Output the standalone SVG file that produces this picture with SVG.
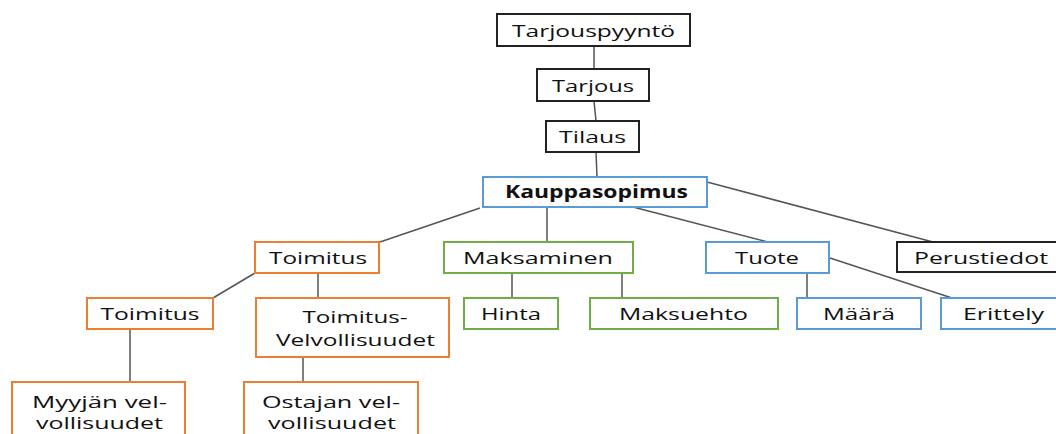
<svg xmlns="http://www.w3.org/2000/svg" width="1056" height="434" viewBox="0 0 1056 434">
<style>
rect{fill:#fff;stroke-width:2}
.k{stroke:#222}
.b{stroke:#5B9BD5}
.o{stroke:#ED7D31}
.g{stroke:#70AD47}
text{font-family:"Open Sans","Liberation Sans",sans-serif;font-size:17px;fill:#111;text-anchor:middle}
.bold{font-weight:bold}
#connectors line{stroke:#555;stroke-width:1.5}
</style>
<rect width="1056" height="434" fill="#fff" style="stroke:none"/>
<g id="connectors">
<line x1="594" y1="46" x2="594" y2="69"/>
<line x1="594" y1="101" x2="596" y2="121"/>
<line x1="596" y1="152" x2="597" y2="177"/>
<line x1="480" y1="208" x2="380" y2="242"/>
<line x1="547" y1="207" x2="547" y2="242"/>
<line x1="633" y1="207" x2="768" y2="242"/>
<line x1="707" y1="182" x2="933" y2="242"/>
<line x1="255" y1="273" x2="213" y2="298"/>
<line x1="318" y1="273" x2="318" y2="298"/>
<line x1="130" y1="329" x2="130" y2="382"/>
<line x1="303" y1="357" x2="303" y2="382"/>
<line x1="512" y1="273" x2="512" y2="298"/>
<line x1="622" y1="273" x2="622" y2="298"/>
<line x1="807" y1="273" x2="807" y2="298"/>
<line x1="830" y1="258" x2="952" y2="298"/>
</g>
<g id="tarjouspyynto"><rect class="k" x="497" y="14" width="193" height="32"/><text x="593.5" y="37" textLength="163" lengthAdjust="spacingAndGlyphs">Tarjouspyyntö</text></g>
<g id="tarjous"><rect class="k" x="537" y="69" width="112" height="32"/><text x="593" y="92" textLength="82" lengthAdjust="spacingAndGlyphs">Tarjous</text></g>
<g id="tilaus"><rect class="k" x="546" y="121" width="93" height="31"/><text x="592.5" y="143" textLength="67" lengthAdjust="spacingAndGlyphs">Tilaus</text></g>
<g id="kauppasopimus"><rect class="b" x="483" y="177" width="224" height="30"/><text class="bold" x="596.5" y="198" textLength="183" lengthAdjust="spacingAndGlyphs">Kauppasopimus</text></g>
<g id="toimitus1"><rect class="o" x="255" y="242" width="124" height="31"/><text x="318" y="264" textLength="98" lengthAdjust="spacingAndGlyphs">Toimitus</text></g>
<g id="maksaminen"><rect class="g" x="444" y="242" width="189" height="31"/><text x="538" y="264" textLength="150" lengthAdjust="spacingAndGlyphs">Maksaminen</text></g>
<g id="tuote"><rect class="b" x="706" y="242" width="123" height="31"/><text x="767" y="264" textLength="64" lengthAdjust="spacingAndGlyphs">Tuote</text></g>
<g id="perustiedot"><rect class="k" x="897" y="242" width="170" height="30"/><text x="981" y="264" textLength="134" lengthAdjust="spacingAndGlyphs">Perustiedot</text></g>
<g id="toimitus2"><rect class="o" x="87" y="298" width="126" height="31"/><text x="150" y="320" textLength="99" lengthAdjust="spacingAndGlyphs">Toimitus</text></g>
<g id="toimitusvelvollisuudet"><rect class="o" x="256" y="298" width="193" height="59"/><text x="355" y="323" textLength="105" lengthAdjust="spacingAndGlyphs">Toimitus-</text><text x="355.5" y="346" textLength="159" lengthAdjust="spacingAndGlyphs">Velvollisuudet</text></g>
<g id="hinta"><rect class="g" x="464" y="298" width="94" height="31"/><text x="511" y="320" textLength="60" lengthAdjust="spacingAndGlyphs">Hinta</text></g>
<g id="maksuehto"><rect class="g" x="590" y="298" width="188" height="31"/><text x="683.5" y="320" textLength="129" lengthAdjust="spacingAndGlyphs">Maksuehto</text></g>
<g id="maara"><rect class="b" x="797" y="298" width="124" height="31"/><text x="859" y="320" textLength="72" lengthAdjust="spacingAndGlyphs">Määrä</text></g>
<g id="erittely"><rect class="b" x="941" y="298" width="130" height="31"/><text x="1003.5" y="320" textLength="81" lengthAdjust="spacingAndGlyphs">Erittely</text></g>
<g id="myyjan"><rect class="o" x="12" y="382" width="173" height="70"/><text x="99.5" y="408" textLength="135" lengthAdjust="spacingAndGlyphs">Myyjän vel-</text><text x="99.5" y="429" textLength="127" lengthAdjust="spacingAndGlyphs">vollisuudet</text></g>
<g id="ostajan"><rect class="o" x="244" y="382" width="174" height="70"/><text x="331" y="408" textLength="138" lengthAdjust="spacingAndGlyphs">Ostajan vel-</text><text x="332" y="429" textLength="128" lengthAdjust="spacingAndGlyphs">vollisuudet</text></g>
</svg>
